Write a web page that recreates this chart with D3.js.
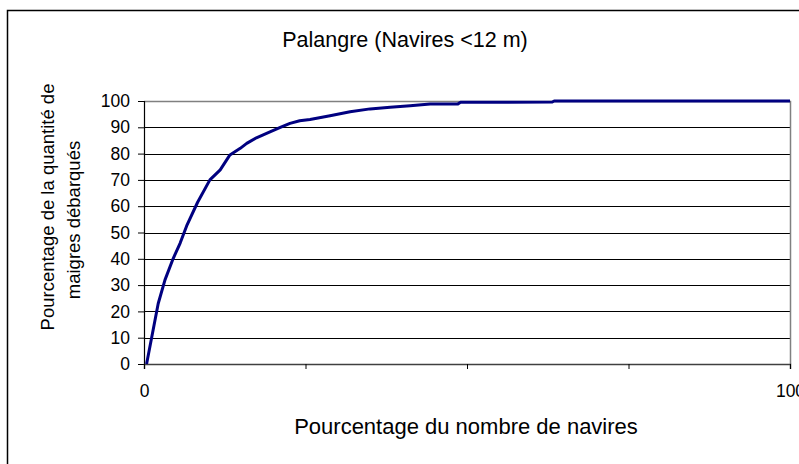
<script src="https://d3js.org/d3.v7.min.js"></script>
<style>
  body { margin: 0; background: #fff; }
  text { font-family: "Liberation Sans", Arial, sans-serif; fill: #000; }
</style>
<div id="chart"></div>
<script>
  // Cumulative curve
  var navires = [0.4, 2.2, 3.25, 4.5, 5.6, 6.6, 8.3, 10.2, 11.8, 13.3, 14.9, 15.9, 17.4, 19.5,
                 21.1, 22.6, 24.1, 25.7, 28.8, 31.9, 35.0, 38.1, 41.2, 44.3, 48.6, 49.0, 63.2, 63.5, 100];
  var debarques = [0, 23, 32, 40, 46, 52.5, 61.5, 70, 73.8, 79.5, 82, 83.9, 86, 88.3,
                   90, 91.5, 92.5, 93, 94.4, 95.9, 97, 97.6, 98.2, 98.9, 98.9, 99.5, 99.6, 100, 100];
  var yTicks = [0, 10, 20, 30, 40, 50, 60, 70, 80, 90, 100];
  var xTicks = [0, 25, 50, 75, 100];
  var xTickLabels = ["0", "", "", "", "100"];

  var W = 799, H = 464;
  var margin = {top: 101, left: 144, right: 9, bottom: 100};
  var width = W - margin.left - margin.right,
      height = 364 - margin.top;

  var svg = d3.select("#chart").append("svg")
    .attr("width", W)
    .attr("height", H);

  // chart border
  svg.append("rect")
    .attr("x", 7.5).attr("y", 10.5)
    .attr("width", 900).attr("height", 600)
    .attr("fill", "none").attr("stroke", "#000").attr("stroke-width", 1.5);

  var g = svg.append("g")
    .attr("transform", "translate(" + margin.left + "," + margin.top + ")");

  var x = d3.scaleLinear().domain([0, 100]).range([0, width]);
  var y = d3.scaleLinear().domain([0, 100]).range([height, 0]);

  // gridlines
  g.append("g")
    .selectAll("line")
    .data(yTicks.filter(function(d) { return d > 0 && d < 100; }))
    .enter().append("line")
      .attr("x1", 0).attr("x2", width)
      .attr("y1", function(d) { return Math.round(y(d)) + 0.5; })
      .attr("y2", function(d) { return Math.round(y(d)) + 0.5; })
      .attr("stroke", "#000").attr("stroke-width", 1);

  // plot area border (top, right)
  g.append("path")
    .attr("d", "M0," + (y(100) + 0.5) + "H" + (width + 0.5) + "V" + height)
    .attr("fill", "none").attr("stroke", "#808080").attr("stroke-width", 1.5);

  // Y axis
  var yAxis = d3.axisLeft(y).tickValues(yTicks).tickSize(6).tickPadding(8);
  g.append("g").call(yAxis)
    .call(function(s) {
      s.select(".domain").attr("stroke", "#000").attr("stroke-width", 1.2);
      s.selectAll(".tick line").attr("stroke", "#000");
      s.selectAll("text").style("font-size", "17.5px").style("font-family", "Liberation Sans, Arial");
    });

  // X axis
  var xAxis = d3.axisBottom(x).tickValues(xTicks)
    .tickFormat(function(d, i) { return xTickLabels[i]; })
    .tickSize(5).tickPadding(16);
  g.append("g")
    .attr("transform", "translate(0," + height + ")")
    .call(xAxis)
    .call(function(s) {
      s.select(".domain").attr("stroke", "#404040").attr("stroke-width", 1.5);
      s.selectAll(".tick line").attr("stroke", "#000");
      s.selectAll("text").style("font-size", "17.5px").style("font-family", "Liberation Sans, Arial");
    });

  // curve
  var line = d3.line()
    .x(function(d, i) { return x(navires[i]); })
    .y(function(d) { return y(d); });

  g.append("path")
    .datum(debarques)
    .attr("d", line)
    .attr("fill", "none")
    .attr("stroke", "#000080")
    .attr("stroke-width", 3)
    .attr("stroke-linejoin", "round");

  // titles
  svg.append("text")
    .attr("x", 405).attr("y", 47)
    .attr("text-anchor", "middle")
    .style("font-size", "21.5px")
    .text("Palangre (Navires <12 m)");

  svg.append("text")
    .attr("x", 466).attr("y", 434)
    .attr("text-anchor", "middle")
    .style("font-size", "22px")
    .text("Pourcentage du nombre de navires");

  svg.append("text")
    .attr("transform", "translate(54,207) rotate(-90)")
    .attr("text-anchor", "middle")
    .style("font-size", "18.5px")
    .text("Pourcentage de la quantité de");

  svg.append("text")
    .attr("transform", "translate(80,220) rotate(-90)")
    .attr("text-anchor", "middle")
    .style("font-size", "18.5px")
    .text("maigres débarqués");
</script>
